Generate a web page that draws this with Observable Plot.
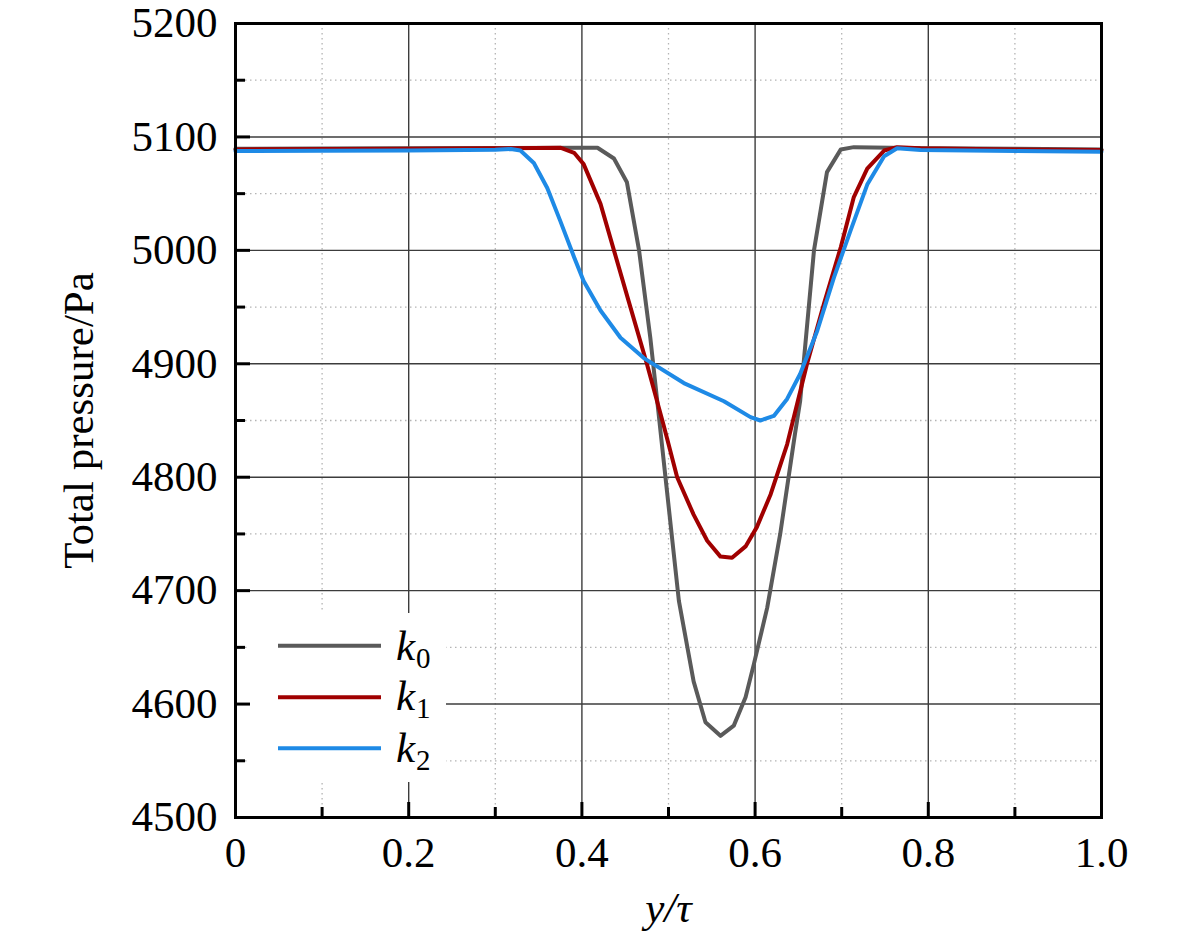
<!DOCTYPE html>
<html><head><meta charset="utf-8">
<script src="https://cdn.jsdelivr.net/npm/d3@7"></script>
<script src="https://cdn.jsdelivr.net/npm/@observablehq/plot@0.6"></script>
<style>
body{margin:0;background:#fff;overflow:hidden}
#wrap{position:relative;width:1181px;height:942px}
#legend{position:absolute;left:250px;top:613px;width:196px;height:169px;background:#fff}
</style>
</head><body><div id="wrap"></div>
<script>
// k0 series
const k0X = [0, 0.1, 0.2, 0.3, 0.4, 0.418, 0.437, 0.452, 0.466, 0.479, 0.488, 0.4965, 0.512, 0.529, 0.5427, 0.560, 0.5754, 0.589, 0.5985, 0.614, 0.629, 0.646, 0.652, 0.668, 0.683, 0.699, 0.714, 0.8, 0.9, 1.0];
const k0P = [5089.5, 5089.7, 5090, 5090.3, 5090.5, 5090.5, 5081, 5060, 5000, 4923, 4860, 4800, 4691, 4620, 4584, 4572, 4581, 4606, 4635, 4685, 4750, 4838, 4867, 5000, 5069, 5089, 5091, 5090, 5089.5, 5089];
// k1 series
const k1X = [0, 0.2, 0.3, 0.375, 0.391, 0.402, 0.4215, 0.437, 0.456, 0.475, 0.494, 0.51, 0.529, 0.5447, 0.560, 0.5734, 0.589, 0.602, 0.618, 0.637, 0.660, 0.6795, 0.699, 0.714, 0.7295, 0.749, 0.764, 0.791, 0.9, 1.0];
const k1P = [5089, 5089.5, 5090, 5090.5, 5086, 5076, 5041, 5000, 4950, 4900, 4847, 4800, 4767, 4744, 4730, 4729, 4739, 4756, 4785, 4829, 4900, 4953, 5003, 5047, 5072, 5088, 5091, 5090, 5089, 5088.5];
// k2 series
const k2X = [0, 0.1, 0.2, 0.3, 0.318, 0.329, 0.3445, 0.36, 0.375, 0.391, 0.402, 0.4215, 0.4446, 0.4715, 0.5177, 0.564, 0.5947, 0.606, 0.6216, 0.637, 0.652, 0.6717, 0.691, 0.710, 0.7295, 0.749, 0.764, 0.791, 0.9, 1.0];
const k2P = [5087.5, 5087.8, 5088, 5088.6, 5089.3, 5088, 5077, 5055, 5026, 4994, 4973, 4947, 4923, 4905, 4883, 4867, 4853, 4850, 4854, 4869, 4891, 4929, 4976, 5017, 5058, 5083, 5090, 5088.5, 5087.5, 5087];

const seriesNames = ["k0", "k1", "k2"];
const seriesSubs = ["0", "1", "2"];
const seriesColors = ["#5a5a5a", "#a00000", "#1e8ae6"];

const xMajor = [0, 0.2, 0.4, 0.6, 0.8, 1.0];
const xMinor = [0.1, 0.3, 0.5, 0.7, 0.9];
const xTickLabels = ["0", "0.2", "0.4", "0.6", "0.8", "1.0"];
const yMajor = [4500, 4600, 4700, 4800, 4900, 5000, 5100, 5200];
const yMinor = [4550, 4650, 4750, 4850, 4950, 5050, 5150];
const yTickLabels = ["4500", "4600", "4700", "4800", "4900", "5000", "5100", "5200"];
const xLabel = "y/τ";
const yLabel = "Total pressure/Pa";

const series = [[k0X, k0P], [k1X, k1P], [k2X, k2P]].map(([xs, ps], i) =>
  xs.map((x, j) => ({x, p: ps[j], s: seriesNames[i]})));

const majorStyle = {stroke: "#3c3c3c", strokeOpacity: 1, strokeWidth: 1.4};
const minorStyle = {stroke: "#b4b4b4", strokeOpacity: 1, strokeWidth: 1.3, strokeDasharray: "1.5,3.5"};
const serif = "'Liberation Serif', 'Times New Roman', serif";

const chart = Plot.plot({
  width: 1181, height: 942,
  marginLeft: 235, marginRight: 80, marginTop: 23, marginBottom: 125,
  x: {domain: [0, 1]},
  y: {domain: [4500, 5200]},
  style: {fontFamily: serif, fontSize: "43px", color: "black", background: "white"},
  marks: [
    Plot.gridX(xMinor, minorStyle),
    Plot.gridY(yMinor, minorStyle),
    Plot.gridX(xMajor.slice(1, -1), majorStyle),
    Plot.gridY(yMajor.slice(1, -1), majorStyle),
    ...series.map((d, i) => Plot.line(d, {x: "x", y: "p", stroke: seriesColors[i], strokeWidth: 4, strokeLinejoin: "round"})),
    Plot.frame({stroke: "black", strokeWidth: 3}),
    Plot.axisY(yMajor, {tickSize: 15, dx: 15, tickFormat: () => "", strokeWidth: 3, label: null}),
    Plot.axisY(yMinor, {tickSize: 10, dx: 10, tickFormat: () => "", strokeWidth: 3, label: null}),
    Plot.axisY(yMajor, {tickSize: 0, tickPadding: 18, fontSize: 43, tickFormat: (d, i) => yTickLabels[i], label: null}),
    Plot.axisX(xMajor, {tickSize: 15, dy: -15, tickFormat: () => "", strokeWidth: 3, label: null}),
    Plot.axisX(xMinor, {tickSize: 10, dy: -10, tickFormat: () => "", strokeWidth: 3, label: null}),
    Plot.axisX(xMajor, {tickSize: 0, tickPadding: 19, fontSize: 43, tickFormat: (d, i) => xTickLabels[i], label: null}),
    Plot.text([yLabel], {frameAnchor: "left", textAnchor: "middle", dx: -156, rotate: -90, text: d => d, fontSize: 43, fill: "black"}),
    Plot.text([xLabel], {frameAnchor: "bottom", textAnchor: "middle", dy: 104, text: d => d, fontSize: 43, fontStyle: "italic", fill: "black"})
  ]
});

const wrap = document.getElementById("wrap");
wrap.appendChild(chart);

// legend
const ns = "http://www.w3.org/2000/svg";
const leg = document.createElement("div");
leg.id = "legend";
const ls = document.createElementNS(ns, "svg");
ls.setAttribute("width", 196); ls.setAttribute("height", 169);
ls.style.fontFamily = serif;
const rowLineY = [32.7, 84.3, 135.3];
const rowBase = [47, 97, 148.7];
const rowSubBase = [55, 105.3, 157];
seriesNames.forEach((n, i) => {
  const l = document.createElementNS(ns, "line");
  l.setAttribute("x1", 28); l.setAttribute("x2", 131);
  l.setAttribute("y1", rowLineY[i]); l.setAttribute("y2", rowLineY[i]);
  l.setAttribute("stroke", seriesColors[i]); l.setAttribute("stroke-width", 4);
  ls.appendChild(l);
  const t = document.createElementNS(ns, "text");
  t.setAttribute("x", 146); t.setAttribute("y", rowBase[i]);
  t.setAttribute("font-size", 43); t.setAttribute("font-style", "italic");
  t.textContent = "k";
  ls.appendChild(t);
  const s = document.createElementNS(ns, "text");
  s.setAttribute("x", 166); s.setAttribute("y", rowSubBase[i]);
  s.setAttribute("font-size", 29);
  s.textContent = seriesSubs[i];
  ls.appendChild(s);
});
leg.appendChild(ls);
wrap.appendChild(leg);
</script>
</body></html>
